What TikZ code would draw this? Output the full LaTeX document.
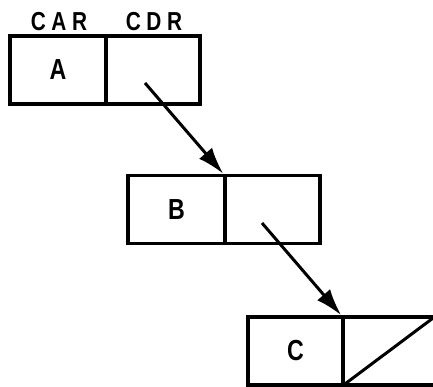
\documentclass[tikz,border=0pt]{standalone}
\usepackage{fontspec}
\setmainfont{Liberation Sans}
\usetikzlibrary{arrows.meta}
\newcommand{\nar}[1]{\scalebox{0.8}[1]{#1}}
\begin{document}
\begin{tikzpicture}[x=1pt,y=-1pt,
  cell/.style={draw,line width=3.4pt,minimum height=68pt,inner sep=0pt,font=\fontsize{29}{29}\selectfont\bfseries},
  ptr/.style={line width=3pt,-{Latex[length=27pt,width=17pt]}},
  lbl/.style={font=\fontsize{26}{26}\selectfont\bfseries,inner sep=0pt}]
\useasboundingbox (0,0) rectangle (433,387);
% first pair
\node[cell,minimum width=96pt] (acar) at (58,70) {\nar{A}};
\node[cell,minimum width=94pt] (acdr) at (153,70) {};
\node[lbl] (lcar) at (59,22) {\nar{C\hspace{7pt}A\hspace{7pt}R}};
\node[lbl] (lcdr) at (154,22) {\nar{C\hspace{7pt}D\hspace{7pt}R}};
% second pair
\node[cell,minimum width=97pt] (bcar) at (176.5,209.5) {\nar{B}};
\node[cell,minimum width=95pt] (bcdr) at (272.5,209.5) {};
% third pair
\node[cell,minimum width=95pt] (ccar) at (295.5,351) {\nar{C}};
\node[cell,minimum width=92pt] (ccdr) at (389,351) {};
\draw[line width=3pt] (ccdr.north east) -- (ccdr.south west);
% pointers
\coordinate (p1) at (145,83);
\coordinate (p2) at (262,223);
\draw[ptr] (p1) -- (bcdr.north west);
\draw[ptr] (p2) -- (ccdr.north west);
\end{tikzpicture}
\end{document}
